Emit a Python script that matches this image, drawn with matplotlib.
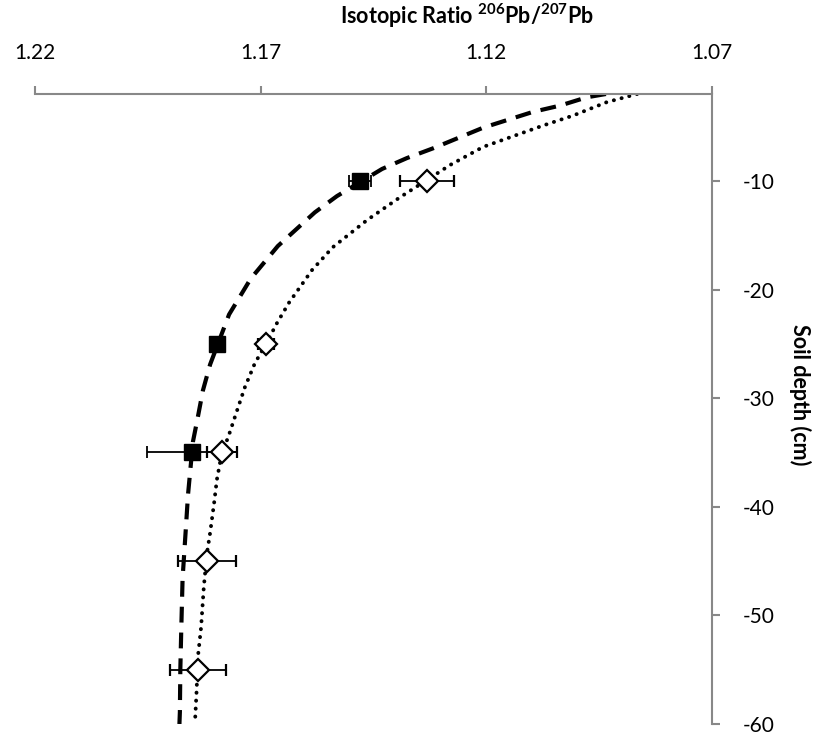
import numpy as np
import matplotlib.pyplot as plt

plt.rcParams['font.family'] = ['Lato', 'DejaVu Sans']
plt.rcParams['axes.unicode_minus'] = False

# measured points (depth in cm, ratio 206Pb/207Pb)
depth_filled = [-10, -25, -35]
ratio_filled = [1.148, 1.1797, 1.1852]
err_filled = [0.0025, 0.0005, 0.0099]

depth_open = [-10, -25, -35, -45, -55]
ratio_open = [1.1332, 1.1688, 1.1786, 1.1819, 1.1838]
err_open = [0.006, 0.0017, 0.0033, 0.0065, 0.0062]

# trend lines
depth_dash = [-2.0, -2.3, -3.07, -3.65, -5.1, -7.0, -7.9, -8.9, -11.4, -12.9, -16.0, -19.0,
              -22.3, -26.9, -29.3, -31.7, -34.0, -38.9, -41.5, -46.6, -51.4, -55.0, -58.9, -60.0]
ratio_dash = [1.0935, 1.0977, 1.1037, 1.1097, 1.1207, 1.1318, 1.1376, 1.1431, 1.1531, 1.1580, 1.1662, 1.1722,
              1.1770, 1.1812, 1.1828, 1.1839, 1.1850, 1.1861, 1.1865, 1.1873, 1.1876, 1.1878, 1.1879, 1.1880]

depth_dot = [-2.0, -2.75, -3.99, -4.9, -6.87, -8.53, -9.9, -11.5, -13.6, -16.1, -18.2, -21.2,
             -23.1, -25.0, -26.8, -29.0, -31.1, -33.6, -35.05, -37.5, -39.6, -42.4, -44.3, -47.4,
             -51.1, -53.8, -57.0, -59.4, -60.0]
ratio_dot = [1.0866, 1.0933, 1.1008, 1.1074, 1.1207, 1.1280, 1.1331, 1.1391, 1.1464, 1.1540, 1.1586, 1.1637,
             1.1664, 1.1688, 1.1713, 1.1735, 1.1752, 1.1772, 1.1786, 1.1797, 1.1803, 1.1812, 1.1819, 1.1826,
             1.1832, 1.1839, 1.1842, 1.1845, 1.1846]

xticks = [1.22, 1.17, 1.12, 1.07]
yticks = [-10, -20, -30, -40, -50, -60]

fig = plt.figure(figsize=(8.18, 7.40), dpi=100)
ax = fig.add_axes([35/818, 16/740, 677/818, 630/740])

ax.plot(ratio_dash, depth_dash, color='black', lw=3, linestyle=(0, (3.8, 2.4)), zorder=2)
ax.plot(ratio_dot, depth_dot, color='black', lw=2.8, linestyle=(0, (0.05, 2.0)),
        dash_capstyle='round', zorder=2)

ax.errorbar(ratio_filled, depth_filled, xerr=err_filled, fmt='s', color='black',
            markersize=11.5, markerfacecolor='black', markeredgecolor='black',
            elinewidth=1.3, capsize=4.5, capthick=1.3, zorder=3)
ax.errorbar(ratio_open, depth_open, xerr=err_open, fmt='D', color='black',
            markersize=11, markerfacecolor='white', markeredgecolor='black', markeredgewidth=1.6,
            elinewidth=1.3, capsize=4.5, capthick=1.3, zorder=3)

ax.set_xlim(1.22, 1.07)
ax.set_ylim(-60, -2)
ax.set_xticks(xticks)
ax.set_xticklabels([f'{v:.2f}' for v in xticks])
ax.set_yticks(yticks)

ax.xaxis.tick_top()
ax.yaxis.tick_right()
for s in ['left', 'bottom']:
    ax.spines[s].set_visible(False)
for s in ['top', 'right']:
    ax.spines[s].set_color('#888888')
    ax.spines[s].set_linewidth(1.5)
ax.tick_params(axis='x', direction='out', length=6, width=1.5, color='#888888',
               pad=16, labelsize=15)
ax.tick_params(axis='y', direction='out', length=6, width=1.5, color='#888888',
               pad=16, labelsize=15)

fig.text(467/818, 1 - 16/740, r'Isotopic Ratio $\mathregular{^{206}}$Pb/$\mathregular{^{207}}$Pb',
         ha='center', va='center', fontsize=15.5, fontweight='bold')
fig.text(800/818, 1 - 395/740, 'Soil depth (cm)', rotation=-90, ha='center', va='center',
         fontsize=15.5, fontweight='bold')

fig.savefig('out.png', dpi=100)
